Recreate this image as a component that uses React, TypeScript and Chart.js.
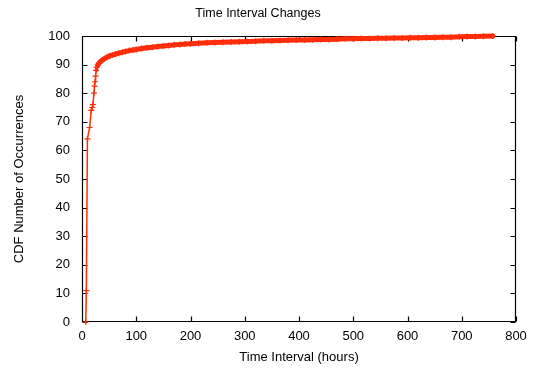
import React, { useEffect, useRef } from 'react';
import { Chart, registerables } from 'chart.js';

Chart.register(...registerables);

const chartTitle = 'Time Interval Changes';
const xAxisLabel = 'Time Interval (hours)';
const yAxisLabel = 'CDF Number of Occurrences';

const xTicks = [0, 100, 200, 300, 400, 500, 600, 700, 800];
const yTicks = [0, 10, 20, 30, 40, 50, 60, 70, 80, 90, 100];

const hours = [
  7, 8, 10, 14, 17, 19, 20, 22, 23, 24,
  25, 26, 27, 29, 31, 33, 36, 40, 44, 48,
  52, 57, 62, 68, 74, 80, 87, 94, 100, 110,
  120, 130, 140, 150, 160, 170, 180, 190, 200, 215,
  230, 245, 260, 275, 290, 305, 320, 335, 350, 365,
  380, 395, 410, 425, 440, 455, 470, 485, 500, 515,
  530, 545, 560, 575, 590, 605, 620, 635, 650, 665,
  680, 695, 710, 725, 740, 757,
];

const cdf = [
  0, 11, 64, 68, 74, 75, 76, 80, 82.5, 84,
  86, 88, 89, 89.8, 90.4, 90.9, 91.4, 91.9, 92.4, 92.8,
  93.1, 93.4, 93.7, 94.0, 94.3, 94.6, 94.9, 95.1, 95.3, 95.6,
  95.9, 96.1, 96.3, 96.5, 96.7, 96.9, 97.0, 97.2, 97.3, 97.5,
  97.6, 97.7, 97.8, 97.9, 98.0, 98.1, 98.2, 98.3, 98.3, 98.4,
  98.5, 98.6, 98.6, 98.7, 98.8, 98.8, 98.9, 99.0, 99.0, 99.1,
  99.1, 99.2, 99.2, 99.3, 99.3, 99.4, 99.4, 99.5, 99.5, 99.6,
  99.6, 99.7, 99.8, 99.8, 99.9, 100,
];

const RED = '#ff2d0a';
const FONT = '"Liberation Sans", Arial, Helvetica, sans-serif';

const framePlugin = {
  id: 'gnuFrame',
  beforeDatasetsDraw(chart: any) {
    const ctx = chart.ctx;
    const { left, right, top, bottom } = chart.chartArea;
    const xs = chart.scales.x;
    const ys = chart.scales.y;
    const L = Math.round(left) + 0.5;
    const R = Math.round(right) - 0.5;
    const T = Math.round(top) + 0.5;
    const B = Math.round(bottom) - 0.5;
    ctx.save();
    ctx.strokeStyle = '#000';
    ctx.lineWidth = 1.2;
    ctx.beginPath();
    ctx.rect(L, T, R - L, B - T);
    const len = 5;
    xTicks.forEach((v) => {
      const px = Math.round(xs.getPixelForValue(v)) + 0.5;
      ctx.moveTo(px, B);
      ctx.lineTo(px, B - len);
      ctx.moveTo(px, T);
      ctx.lineTo(px, T + len);
    });
    yTicks.forEach((v) => {
      const py = Math.round(ys.getPixelForValue(v)) + 0.5;
      ctx.moveTo(L, py);
      ctx.lineTo(L + len, py);
      ctx.moveTo(R, py);
      ctx.lineTo(R - len, py);
    });
    ctx.stroke();
    ctx.restore();
  },
};

export default function App() {
  const ref = useRef<HTMLCanvasElement>(null);
  useEffect(() => {
    document.body.style.margin = '0';
    const tickFont = { family: FONT, size: 13 };
    const chart = new Chart(ref.current as HTMLCanvasElement, {
      type: 'line',
      data: {
        datasets: [
          {
            data: hours.map((h, i) => ({ x: h, y: cdf[i] })),
            borderColor: RED,
            backgroundColor: RED,
            borderWidth: 1.5,
            pointStyle: 'cross',
            pointRadius: 3,
            pointBorderWidth: 1.2,
            pointBorderColor: RED,
            tension: 0,
            borderJoinStyle: 'round',
            borderCapStyle: 'round',
            segment: {
              borderWidth: (c: any) =>
                c.p0.parsed.x >= 29 ? 5 : c.p0.parsed.x >= 26 ? 3 : 1.5,
            },
            clip: false as any,
          },
        ],
      },
      options: {
        responsive: false,
        animation: false,
        layout: { padding: { left: 0, right: 26, top: 0, bottom: 0 } },
        plugins: {
          legend: { display: false },
          tooltip: { enabled: false },
          title: {
            display: true,
            text: chartTitle,
            color: '#000',
            font: { family: FONT, size: 12.5, weight: 'normal' },
            padding: { top: 6, bottom: 15 },
          },
        },
        scales: {
          x: {
            type: 'linear',
            min: 0,
            max: 800,
            afterBuildTicks: (s: any) => {
              s.ticks = xTicks.map((v) => ({ value: v }));
            },
            ticks: { color: '#000', font: tickFont, padding: 7, maxRotation: 0, autoSkip: false },
            grid: { display: false, drawTicks: false },
            border: { display: false },
            title: {
              display: true,
              text: xAxisLabel,
              color: '#000',
              font: tickFont,
              padding: { top: 0, bottom: 6 },
            },
            afterFit: (s: any) => {
              s.height = 49;
            },
          },
          y: {
            type: 'linear',
            min: 0,
            max: 100,
            afterBuildTicks: (s: any) => {
              s.ticks = yTicks.map((v) => ({ value: v }));
            },
            ticks: { color: '#000', font: tickFont, padding: 12, autoSkip: false },
            grid: { display: false, drawTicks: false },
            border: { display: false },
            title: {
              display: true,
              text: yAxisLabel,
              color: '#000',
              font: tickFont,
              padding: { top: 12, bottom: 0 },
            },
            afterFit: (s: any) => {
              s.width = 82;
            },
          },
        },
      },
      plugins: [framePlugin],
    } as any);
    return () => chart.destroy();
  }, []);
  return (
    <canvas
      ref={ref}
      width={542}
      height={371}
      style={{ display: 'block', width: 542, height: 371 }}
    />
  );
}
